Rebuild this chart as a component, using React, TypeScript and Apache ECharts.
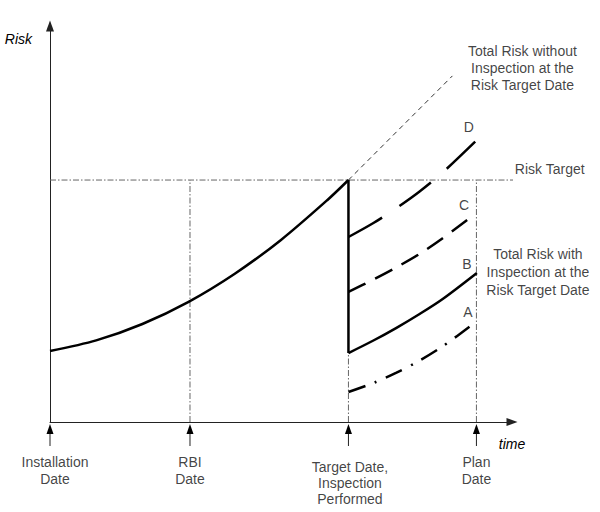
import React, { useEffect, useRef } from "react";
import * as echarts from "echarts";

// ---- data (axis units: time 0..100, risk 0..100) ----
const X_MAX = 100;
const Y_MAX = 100;
const dateLabels = ["Installation\nDate", "RBI\nDate", "Target Date,\nInspection\nPerformed", "Plan\nDate"];
const dateValues = [0, 30.3, 64.6, 92.3];
const riskTarget = 61.1;
const riskTargetEnd = 106;
const baseCurve = [[0, 17.93], [10, 20.61], [20, 24.75], [30, 30.35], [40, 37.45], [50, 45.98], [60, 56.01], [64.6, 61.11]];
const noInspection = [[64.6, 61.11], [87.1, 87.4]];
const curveD = [[64.6, 46.72], [70, 50.25], [75, 54.04], [80, 58.23], [85, 63.01], [92.4, 71.21]];
const curveC = [[64.6, 32.83], [70, 35.98], [75, 39.07], [80, 42.45], [85, 46.41], [90.7, 51.39]];
const curveB = [[64.6, 17.42], [70, 20.58], [75, 23.79], [80, 27.27], [85, 31.06], [92.4, 37.63]];
const curveA = [[64.6, 7.58], [70, 9.85], [75, 12.47], [80, 15.51], [85, 19.12], [92.2, 25.25]];
const curveNames = ["A", "B", "C", "D"];
const textWithout = "Total Risk without\nInspection at the\nRisk Target Date";
const textWith = "Total Risk with\nInspection at the\nRisk Target Date";
const textTarget = "Risk Target";

const FONT = "'Liberation Sans', Arial, sans-serif";

export default function App() {
  const ref = useRef<HTMLDivElement>(null);
  useEffect(() => {
    if (!ref.current) return;
    const chart = echarts.init(ref.current, null, { renderer: "svg" });
    const ink = "#000";
    const refLine = { color: "#666", width: 1, type: [6, 2, 1.5, 2] as any };
    const bold = 2.5;

    const lineSeries = (data: number[][], lineStyle: any, smooth: any = 0.3) => ({
      type: "line",
      data,
      smooth,
      symbol: "none",
      clip: false,
      silent: true,
      lineStyle,
      z: 3,
    });

    const tri = dateValues[2];
    const bStart = curveB[0][1];

    const annotations = [
      { anchor: noInspection[noInspection.length - 1], text: textWithout, offset: [70, -8], lh: 17 },
      { anchor: [riskTargetEnd, riskTarget], text: textTarget, offset: [10, -11], lh: 17 },
      { anchor: curveD[curveD.length - 1], text: curveNames[3], offset: [-8, -13], lh: 17 },
      { anchor: curveC[curveC.length - 1], text: curveNames[2], offset: [-5, -13], lh: 17 },
      { anchor: curveB[curveB.length - 1], text: curveNames[1], offset: [-10, -9], lh: 17 },
      { anchor: curveA[curveA.length - 1], text: curveNames[0], offset: [-8, -10], lh: 17 },
      { anchor: curveB[curveB.length - 1], text: textWith, offset: [61, -1], lh: 18 },
      ...dateValues.map((v, i) => ({
        anchor: [v, 0],
        text: dateLabels[i],
        offset: i === 0 ? [5, 48] : i === 2 ? [1.5, 61] : [0, 48],
        lh: i === 2 ? 16 : 17,
      })),
    ];

    const option: any = {
      animation: false,
      backgroundColor: "#fff",
      grid: { left: 50, top: 26, width: 462, height: 396 },
      xAxis: {
        type: "value",
        min: 0,
        max: X_MAX,
        name: "time",
        nameLocation: "end",
        nameGap: 0,
        nameTextStyle: {
          fontFamily: FONT,
          fontSize: 14,
          fontStyle: "italic",
          color: ink,
          align: "center",
          verticalAlign: "top",
          padding: [15, 0, 0, 0],
        },
        axisLine: {
          show: true,
          symbol: ["none", "triangle"],
          symbolSize: [8, 11],
          lineStyle: { color: "#222", width: 1 },
        },
        axisTick: { show: false },
        axisLabel: { show: false },
        splitLine: { show: false },
      },
      yAxis: {
        type: "value",
        min: 0,
        max: Y_MAX,
        name: "Risk",
        nameLocation: "end",
        nameGap: -13,
        nameTextStyle: {
          fontFamily: FONT,
          fontSize: 14,
          fontStyle: "italic",
          color: ink,
          align: "right",
          verticalAlign: "middle",
          padding: [0, 18, 0, 0],
        },
        axisLine: {
          show: true,
          symbol: ["none", "triangle"],
          symbolSize: [8, 11],
          lineStyle: { color: "#222", width: 1 },
        },
        axisTick: { show: false },
        axisLabel: { show: false },
        splitLine: { show: false },
      },
      series: [
        // reference dash-dot lines
        lineSeries([[0, riskTarget], [riskTargetEnd, riskTarget]], refLine, false),
        lineSeries([[dateValues[1], 0], [dateValues[1], riskTarget]], refLine, false),
        lineSeries([[dateValues[3], 0], [dateValues[3], riskTarget]], refLine, false),
        lineSeries([[tri, 0], [tri, bStart]], refLine, false),
        // risk curves
        lineSeries(baseCurve, { color: ink, width: bold }),
        lineSeries([[tri, riskTarget], [tri, bStart]], { color: ink, width: bold }, false),
        lineSeries(noInspection, { color: "#333", width: 1, type: [5, 4] }, false),
        lineSeries(curveD, { color: ink, width: bold, type: [39, 21] }),
        lineSeries(curveC, { color: ink, width: bold, type: [19, 11] }),
        lineSeries(curveB, { color: ink, width: bold }),
        lineSeries(curveA, { color: ink, width: bold, type: [18, 10, 2, 10] }),
        // arrows under the time axis
        {
          type: "custom",
          silent: true,
          clip: false,
          data: dateValues.map((v) => [v, 0]),
          encode: { x: 0, y: 1 },
          renderItem: (params: any, api: any) => {
            const p = api.coord([api.value(0), 0]);
            return {
              type: "group",
              children: [
                {
                  type: "line",
                  shape: { x1: p[0], y1: p[1] + 24, x2: p[0], y2: p[1] + 10 },
                  style: { stroke: "#222", lineWidth: 1 },
                },
                {
                  type: "polygon",
                  shape: { points: [[p[0], p[1] + 2], [p[0] - 3.5, p[1] + 12], [p[0] + 3.5, p[1] + 12]] },
                  style: { fill: "#000" },
                },
              ],
            };
          },
          z: 4,
        },
        // text annotations
        {
          type: "scatter",
          silent: true,
          clip: false,
          symbolSize: 0,
          z: 5,
          data: annotations.map((a) => ({
            value: a.anchor,
            label: {
              show: true,
              position: "inside",
              offset: a.offset,
              formatter: a.text,
              align: "center",
              verticalAlign: "middle",
              fontFamily: FONT,
              fontSize: 14,
              lineHeight: a.lh,
              color: "#111",
              textBorderWidth: 0,
            },
          })),
        },
      ],
    };
    chart.setOption(option);
    return () => chart.dispose();
  }, []);

  return (
    <div
      ref={ref}
      style={{ position: "absolute", left: 0, top: 0, width: 600, height: 512, background: "#fff" }}
    />
  );
}
